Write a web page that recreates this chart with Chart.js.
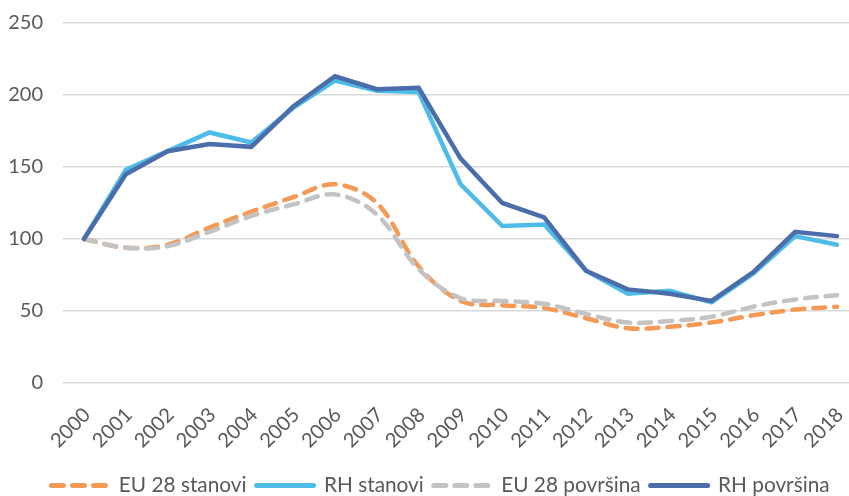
<!DOCTYPE html>
<html><head><meta charset="utf-8">
<script src="https://cdn.jsdelivr.net/npm/chart.js@4/dist/chart.umd.min.js"></script>
<style>html,body{margin:0;padding:0;background:#fff;overflow:hidden}#wrap{width:849px;height:496px;position:relative}</style>
</head><body><div id="wrap"><canvas id="c" width="849" height="496"></canvas></div>
<script>
const years = ['2000','2001','2002','2003','2004','2005','2006','2007','2008','2009','2010','2011','2012','2013','2014','2015','2016','2017','2018'];
const euStanovi = [100,94,96,108,119,129,138,125,81,57,54,52,45,38,39,42,47,51,53];
const rhStanovi = [100,148,161,174,167,191,210,203,202,138,109,110,78,62,64,56,76,102,96];
const euPovrsina = [100,94,95,105,116,124,131,117,79,59,57,55,48,42,43,46,53,58,61];
const rhPovrsina = [100,145,161,166,164,192,213,204,205,156,125,115,78,65,62,57,77,105,102];
const yTicks = [0,50,100,150,200,250];

const pts = arr => arr.map((v,i)=>({x:i,y:v}));
const FONT = "Lato, 'Open Sans', sans-serif";
const TXT = '#595959';

const shiftLegend = {
  id:'shiftLegend',
  afterLayout(chart){
    const lg = chart.legend;
    lg.left += 16; lg.right += 16;
    lg.top += 10; lg.bottom += 10;
  }
};

new Chart(document.getElementById('c'), {
  type: 'line',
  data: {
    datasets: [
      {label:'EU 28 stanovi', data:pts(euStanovi), borderColor:'#F39A57', backgroundColor:'#F39A57', borderWidth:4.5, borderDash:[12,9], borderCapStyle:'round', tension:0.35, pointRadius:0, order:3},
      {label:'RH stanovi', data:pts(rhStanovi), borderColor:'#4DBCE9', backgroundColor:'#4DBCE9', borderWidth:4.5, borderCapStyle:'round', tension:0, pointRadius:0, order:2},
      {label:'EU 28 površina', data:pts(euPovrsina), borderColor:'#C3C3C3', backgroundColor:'#C3C3C3', borderWidth:4.5, borderDash:[12,9], borderCapStyle:'round', tension:0.35, pointRadius:0, order:1},
      {label:'RH površina', data:pts(rhPovrsina), borderColor:'#4B6EAB', backgroundColor:'#4B6EAB', borderWidth:4.5, borderCapStyle:'round', tension:0, pointRadius:0, order:0}
    ]
  },
  plugins:[shiftLegend],
  options: {
    responsive:false, animation:false,
    layout:{padding:{top:23,right:0,left:0,bottom:0}},
    plugins:{
      tooltip:{enabled:false},
      legend:{position:'bottom', labels:{usePointStyle:true, pointStyle:'line', pointStyleWidth:57, color:TXT, font:{family:FONT,size:20.8}, padding:10,
        sort:(a,b)=>a.datasetIndex-b.datasetIndex,
        generateLabels: chart => {
          const items = Chart.defaults.plugins.legend.labels.generateLabels(chart);
          items.forEach(it => {
            const ds = chart.data.datasets[it.datasetIndex];
            it.lineDash = ds.borderDash || [];
            it.lineCap = 'round';
            it.lineWidth = 5;
            it.strokeStyle = ds.borderColor;
            it.fillStyle = ds.borderColor;
            it.pointStyle = 'line';
          });
          return items;
        }}}
    },
    scales:{
      x:{type:'linear', min:-0.502, max:18.287,
        afterBuildTicks: ax => { ax.ticks = years.map((_,i)=>({value:i})); },
        afterFit: ax => { ax.height = 496 - 383 - ax.chart.legend.height; ax.paddingLeft = 0; ax.paddingRight = 0; },
        ticks:{autoSkip:false, minRotation:45, maxRotation:45, color:TXT, font:{family:FONT,size:20}, padding:12, labelOffset:3, callback:v=>years[v]},
        grid:{display:false}, border:{display:false}},
      y:{min:0, max:250,
        afterBuildTicks: ax => { ax.ticks = yTicks.map(v=>({value:v})); },
        afterFit: ax => { ax.width = 63; ax.paddingTop = 0; ax.paddingBottom = 0; },
        ticks:{color:TXT, font:{family:FONT,size:20}, padding:20},
        grid:{color:'#D9D9D9', lineWidth:1.5, drawTicks:false}, border:{display:false}}
    }
  }
});
</script></body></html>
